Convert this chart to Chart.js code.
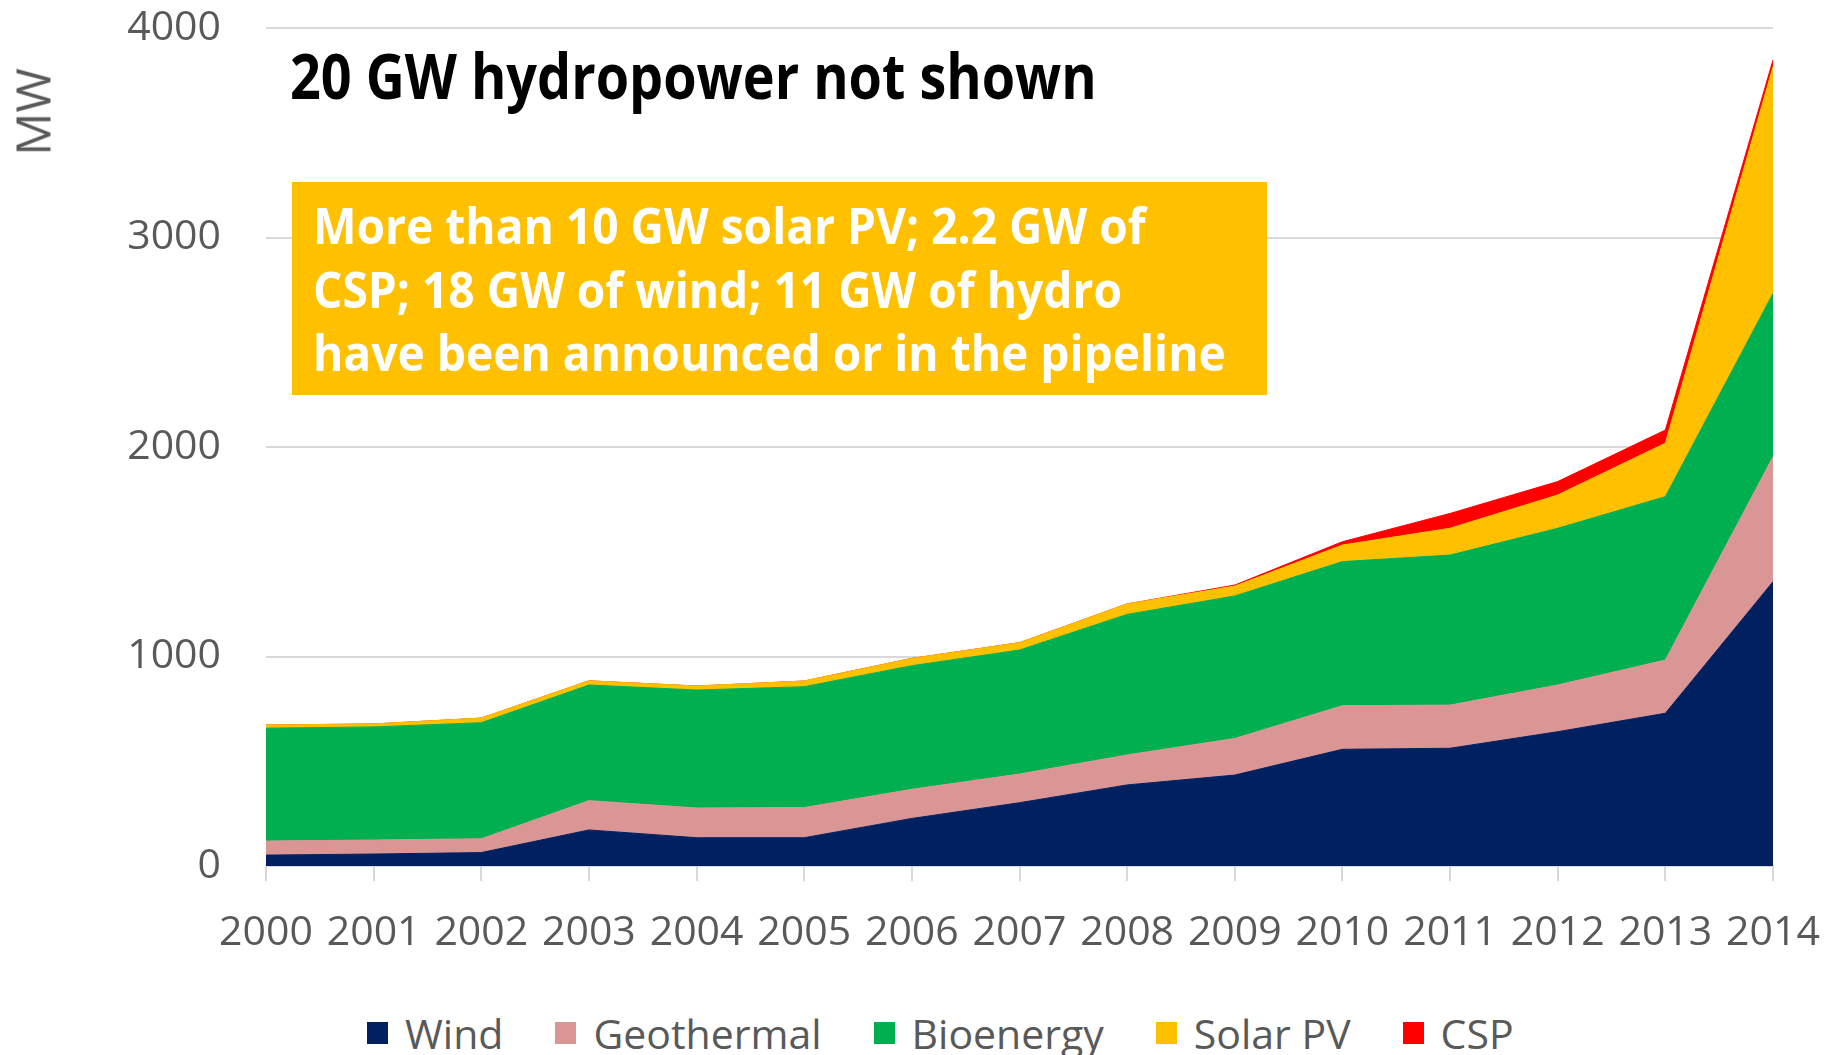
<!DOCTYPE html>
<html>
<head>
<meta charset="utf-8">
<script src="https://cdn.jsdelivr.net/npm/chart.js@4/dist/chart.umd.min.js"></script>
<style>
  html, body { margin: 0; padding: 0; background: #fff; overflow: hidden; }
  #wrap { position: relative; width: 1845px; height: 1055px; }
  #chart { position: absolute; left: 0; top: 0; }
  .ytitle {
    position: absolute; left: 32px; top: 112px;
    transform: translate(-50%, -50%) rotate(-90deg);
    font: 48px "Open Sans", sans-serif; color: #595959; white-space: nowrap;
  }
  .title {
    position: absolute; left: 290px; top: 33px;
    font: bold 62px "Open Sans", sans-serif; color: #000; white-space: nowrap;
    transform: scaleX(0.87); transform-origin: left top;
  }
  .note {
    position: absolute; left: 292px; top: 182px; width: 975px; height: 213px;
    background: #FFC000; box-sizing: border-box; padding: 12px 0 0 21px;
    color: #fff; white-space: nowrap;
  }
  .note div {
    font: bold 50px "Open Sans", sans-serif; line-height: 63.5px;
    transform: scaleX(0.923); transform-origin: left top;
  }
  .legend {
    position: absolute; left: 367px; top: 1005px; display: flex; align-items: center;
    font: 41px "Open Sans", sans-serif; color: #595959; white-space: nowrap;
  }
  .legend span.box { display: inline-block; width: 21px; height: 22px; margin-right: 17px; }
  .legend span.item { display: flex; align-items: center; margin-right: 52px; }
</style>
</head>
<body>
<div id="wrap">
  <canvas id="chart" width="1845" height="960"></canvas>
  <div class="ytitle">MW</div>
  <div class="title">20 GW hydropower not shown</div>
  <div class="note"><div>More than 10 GW solar PV; 2.2 GW of<br>CSP; 18 GW of wind; 11 GW of hydro<br>have been announced or in the pipeline</div></div>
  <div class="legend" id="legend"></div>
</div>
<script>
// ==============================
// Datos (MW instalados)
// ==============================
const years = ['2000', '2001', '2002', '2003', '2004', '2005', '2006', '2007',
               '2008', '2009', '2010', '2011', '2012', '2013', '2014'];
const wind       = [52, 57, 64, 172, 135, 135, 227, 302, 387, 434, 557, 562, 641, 729, 1357];
const geothermal = [67, 67, 66, 140, 142, 144, 139, 137, 143, 175, 208, 206, 223, 254, 596];
const bioenergy  = [539, 540, 554, 552, 563, 577, 590, 592, 671, 680, 688, 716, 748, 780, 780];
const solarPV    = [15, 14, 22, 20, 19, 27, 35, 35, 50, 47, 79, 128, 159, 255, 1082];
const csp        = [0, 0, 0, 0, 0, 0, 0, 0, 0, 5, 16, 71, 64, 63, 32];
const yTicks = [0, 1000, 2000, 3000, 4000];

const seriesNames  = ['Wind', 'Geothermal', 'Bioenergy', 'Solar PV', 'CSP'];
const seriesColors = ['#002060', '#DA9694', '#00B050', '#FFC000', '#FF0000'];
const seriesData   = [wind, geothermal, bioenergy, solarPV, csp];

const GRID = '#D9D9D9';
const TEXT = '#595959';

// ==============================
// Gráfica de áreas apiladas
// ==============================
const datasets = seriesData.map((data, i) => ({
  label: seriesNames[i],
  data: data,
  backgroundColor: seriesColors[i],
  borderColor: seriesColors[i],
  borderWidth: 1,
  pointRadius: 0,
  tension: 0,
  fill: i === 0 ? 'origin' : '-1'
}));

new Chart(document.getElementById('chart').getContext('2d'), {
  type: 'line',
  data: { labels: years, datasets: datasets },
  options: {
    responsive: false,
    animation: false,
    layout: { padding: { top: 28, right: 72, bottom: 0, left: 0 } },
    plugins: { legend: { display: false }, tooltip: { enabled: false } },
    scales: {
      x: {
        offset: false,
        grid: { display: true, drawOnChartArea: false, drawTicks: true, tickLength: 15, color: GRID, lineWidth: 2 },
        border: { display: true, color: GRID, width: 2 },
        ticks: {
          autoSkip: false, maxRotation: 0, padding: 28, color: TEXT,
          font: { family: 'Open Sans', size: 41 }
        },
        afterFit: s => { s.height = 94; s.paddingLeft = 0; s.paddingRight = 0; }
      },
      y: {
        stacked: true,
        min: 0,
        max: 4000,
        grid: { color: GRID, lineWidth: 2, drawTicks: false },
        border: { display: false },
        ticks: {
          padding: 45, color: TEXT,
          font: { family: 'Open Sans', size: 41 },
          callback: v => String(v)
        },
        afterBuildTicks: s => { s.ticks = yTicks.map(v => ({ value: v })); },
        // ancho fijo del eje y sin relleno extra arriba/abajo
        afterFit: s => { s.width = 266; s.paddingTop = 0; s.paddingBottom = 0; }
      }
    }
  }
});

// Leyenda inferior
const legend = document.getElementById('legend');
seriesNames.forEach((name, i) => {
  const item = document.createElement('span');
  item.className = 'item';
  item.innerHTML = '<span class="box" style="background:' + seriesColors[i] + '"></span>' + name;
  legend.appendChild(item);
});
</script>
</body>
</html>
